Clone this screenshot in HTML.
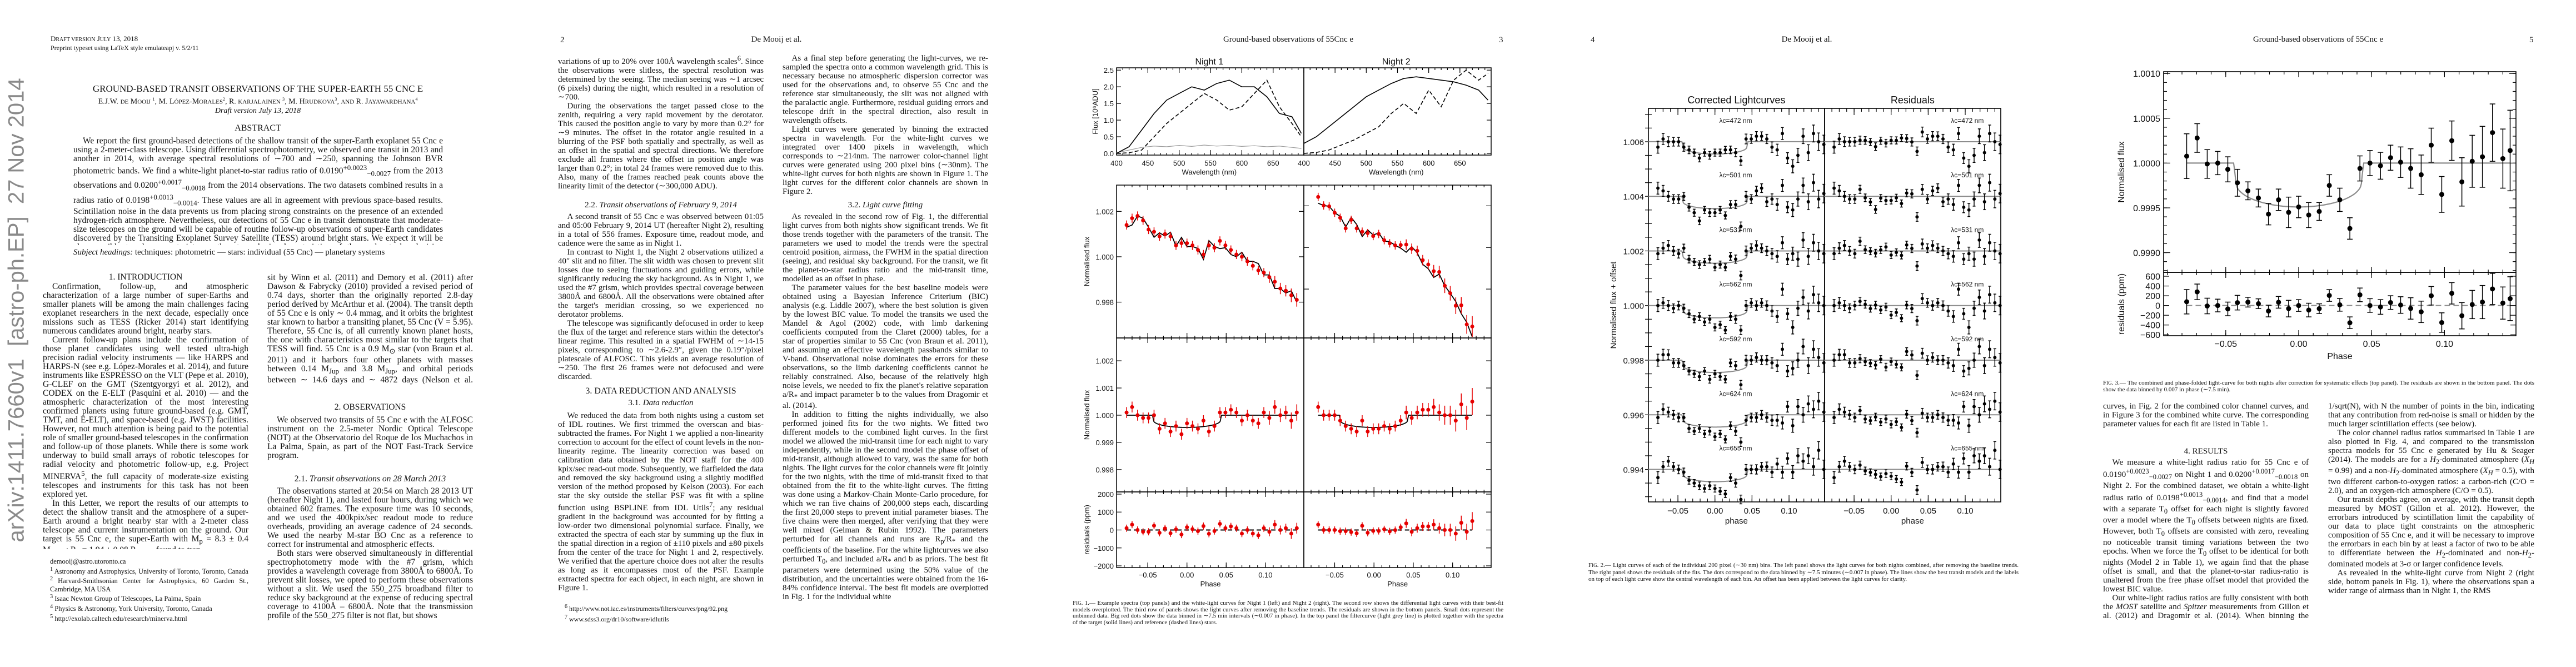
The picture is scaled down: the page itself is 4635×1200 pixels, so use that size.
<!DOCTYPE html>
<html><head><meta charset="utf-8">
<style>
html,body{margin:0;padding:0;background:#fff;}
body{width:4635px;height:1200px;position:relative;overflow:hidden;font-family:"Liberation Serif",serif;color:#111;}
.abs{position:absolute;}
.col{position:absolute;text-align:justify;font-size:15px;line-height:16px;overflow:hidden;hyphens:auto;}
.col p{margin:0;text-indent:1.1em;}
.p1{font-size:15.5px;line-height:16px;}
.hd{position:absolute;text-align:center;font-size:15px;}
.fn{position:absolute;font-size:12px;line-height:14px;text-align:justify;}
.cap{position:absolute;font-size:11px;line-height:11.5px;text-align:justify;}
svg text{font-family:"Liberation Sans",sans-serif;fill:#111;}
</style></head>
<body>
<!-- PAGE 1 -->
<div class="abs" style="left:91px;top:62px;font-size:13px;">D<span style="font-size:10px">RAFT VERSION</span> J<span style="font-size:10px">ULY</span> 13, 2018</div>
<div class="abs" style="left:91px;top:79px;font-size:12px;">Preprint typeset using LaTeX style emulateapj v. 5/2/11</div>
<div class="hd" style="left:130px;width:668px;top:150px;font-size:17px;">GROUND-BASED TRANSIT OBSERVATIONS OF THE SUPER-EARTH 55 CNC E</div>
<div class="hd" style="left:100px;width:728px;top:174px;font-size:14px;">E.J.W. <span style="font-size:11px">DE</span> M<span style="font-size:11px">OOIJ</span> <sup style="font-size:8px">1</sup>, M. L<span style="font-size:11px">ÓPEZ</span>-M<span style="font-size:11px">ORALES</span><sup style="font-size:8px">2</sup>, R. <span style="font-size:11px">KARJALAINEN</span> <sup style="font-size:8px">3</sup>, M. H<span style="font-size:11px">RUDKOVA</span><sup style="font-size:8px">3</sup>, <span style="font-size:11px">AND</span> R. J<span style="font-size:11px">AYAWARDHANA</span><sup style="font-size:8px">4</sup></div>
<div class="hd" style="left:130px;width:668px;top:192px;font-size:14px;font-style:italic;">Draft version July 13, 2018</div>
<div class="hd" style="left:130px;width:668px;top:222px;font-size:16px;">ABSTRACT</div>
<div class="col p1" style="left:132px;width:665px;top:246px;height:195px;">
<p>We report the first ground-based detections of the shallow transit of the super-Earth exoplanet 55 Cnc e using a 2-meter-class telescope. Using differential spectrophotometry, we observed one transit in 2013 and another in 2014, with average spectral resolutions of ∼700 and ∼250, spanning the Johnson BVR photometric bands. We find a white-light planet-to-star radius ratio of 0.0190<sup>+0.0023</sup><sub>−0.0027</sub> from the 2013 observations and 0.0200<sup>+0.0017</sup><sub>−0.0018</sub> from the 2014 observations. The two datasets combined results in a radius ratio of 0.0198<sup>+0.0013</sup><sub>−0.0014</sub>. These values are all in agreement with previous space-based results. Scintillation noise in the data prevents us from placing strong constraints on the presence of an extended hydrogen-rich atmosphere. Nevertheless, our detections of 55 Cnc e in transit demonstrate that moderate-size telescopes on the ground will be capable of routine follow-up observations of super-Earth candidates discovered by the Transiting Exoplanet Survey Satellite (TESS) around bright stars. We expect it will be also possible to place constraints on the atmospheric characteristics of those planets by devising observational strategies to minimize scintillation noise.</p></div>
<div class="abs" style="left:132px;top:446px;font-size:15px;"><i>Subject headings:</i> techniques: photometric — stars: individual (55 Cnc) — planetary systems</div>
<div class="hd" style="left:77px;width:370px;top:490px;font-size:15.5px;">1. INTRODUCTION</div>
<div class="col p1" style="left:77px;width:370px;top:508px;height:480px;">
<p>Confirmation, follow-up, and atmospheric characterization of a large number of super-Earths and smaller planets will be among the main challenges facing exoplanet researchers in the next decade, especially once missions such as TESS (Ricker 2014) start identifying numerous candidates around bright, nearby stars.</p>
<p>Current follow-up plans include the confirmation of those planet candidates using well tested ultra-high precision radial velocity instruments — like HARPS and HARPS-N (see e.g. López-Morales et al. 2014), and future instruments like ESPRESSO on the VLT (Pepe et al. 2010), G-CLEF on the GMT (Szentgyorgyi et al. 2012), and CODEX on the E-ELT (Pasquini et al. 2010) — and the atmospheric characterization of the most interesting confirmed planets using future ground-based (e.g. GMT, TMT, and E-ELT), and space-based (e.g. JWST) facilities. However, not much attention is being paid to the potential role of smaller ground-based telescopes in the confirmation and follow-up of those planets. While there is some work underway to build small arrays of robotic telescopes for radial velocity and photometric follow-up, e.g. Project MINERVA<sup>5</sup>, the full capacity of moderate-size existing telescopes and instruments for this task has not been explored yet.</p>
<p>In this Letter, we report the results of our attempts to detect the shallow transit and the atmosphere of a super-Earth around a bright nearby star with a 2-meter class telescope and current instrumentation on the ground. Our target is 55 Cnc e, the super-Earth with M<sub>p</sub> = 8.3 ± 0.4 M<sub>Earth</sub>; R<sub>p</sub> = 1.94 ± 0.08 R<sub>Earth</sub>, found to tran-</p></div>
<div class="fn" style="left:90px;width:357px;top:1003px;font-size:12.5px;line-height:14.5px;">demooij@astro.utoronto.ca<br><sup>1</sup> Astronomy and Astrophysics, University of Toronto, Toronto, Canada<br><sup>2</sup> Harvard-Smithsonian Center for Astrophysics, 60 Garden St., Cambridge, MA USA<br><sup>3</sup> Isaac Newton Group of Telescopes, La Palma, Spain<br><sup>4</sup> Physics &amp; Astronomy, York University, Toronto, Canada<br><sup>5</sup> http://exolab.caltech.edu/research/minerva.html</div>
<div class="col p1" style="left:481px;width:370px;top:492px;height:200px;">
<p style="text-indent:0">sit by Winn et al. (2011) and Demory et al. (2011) after Dawson &amp; Fabrycky (2010) provided a revised period of 0.74 days, shorter than the originally reported 2.8-day period derived by McArthur et al. (2004). The transit depth of 55 Cnc e is only ∼ 0.4 mmag, and it orbits the brightest star known to harbor a transiting planet, 55 Cnc (V = 5.95). Therefore, 55 Cnc is, of all currently known planet hosts, the one with characteristics most similar to the targets that TESS will find. 55 Cnc is a 0.9 M<sub>⊙</sub> star (von Braun et al. 2011) and it harbors four other planets with masses between 0.14 M<sub>Jup</sub> and 3.8 M<sub>Jup</sub>, and orbital periods between ∼ 14.6 days and ∼ 4872 days (Nelson et al. 2014).</p></div>
<div class="hd" style="left:481px;width:370px;top:724px;font-size:15.5px;">2. OBSERVATIONS</div>
<div class="col p1" style="left:481px;width:370px;top:748px;height:82px;">
<p>We observed two transits of 55 Cnc e with the ALFOSC instrument on the 2.5-meter Nordic Optical Telescope (NOT) at the Observatorio del Roque de los Muchachos in La Palma, Spain, as part of the NOT Fast-Track Service program.</p></div>
<div class="hd" style="left:481px;width:370px;top:853px;font-size:15.5px;">2.1. <i>Transit observations on 28 March 2013</i></div>
<div class="col p1" style="left:481px;width:370px;top:876px;height:240px;">
<p>The observations started at 20:54 on March 28 2013 UT (hereafter Night 1), and lasted four hours, during which we obtained 602 frames. The exposure time was 10 seconds, and we used the 400kpix/sec readout mode to reduce overheads, providing an average cadence of 24 seconds. We used the nearby M-star BO Cnc as a reference to correct for instrumental and atmospheric effects.</p>
<p>Both stars were observed simultaneously in differential spectrophotometry mode with the #7 grism, which provides a wavelength coverage from 3800Å to 6800Å. To prevent slit losses, we opted to perform these observations without a slit. We used the 550_275 broadband filter to reduce sky background at the expense of reducing spectral coverage to 4100Å – 6800Å. Note that the transmission profile of the 550_275 filter is not flat, but shows</p></div>
<div class="abs" style="left:30px;top:558px;width:0;height:0;"><div style="position:absolute;transform:translate(-50%,-50%) rotate(-90deg);white-space:nowrap;font-size:40px;color:#8a8a8a;font-family:'Liberation Sans',sans-serif;">arXiv:1411.7660v1 &nbsp;[astro-ph.EP] &nbsp;27 Nov 2014</div></div>

<!-- PAGE 2 -->
<div class="abs" style="left:1008px;top:64px;font-size:15px;">2</div>
<div class="hd" style="left:1300px;width:194px;top:63px;">De Mooij et al.</div>
<div class="col" style="left:1004px;width:370px;top:97px;height:262px;">
<p style="text-indent:0">variations of up to 20% over 100Å wavelength scales<sup>6</sup>. Since the observations were slitless, the spectral resolution was determined by the seeing. The median seeing was ∼1 arcsec (6 pixels) during the night, which resulted in a resolution of ∼700.</p>
<p>During the observations the target passed close to the zenith, requiring a very rapid movement by the derotator. This caused the position angle to vary by more than 0.2° for ∼9 minutes. The offset in the rotator angle resulted in a blurring of the PSF both spatially and spectrally, as well as an offset in the spatial and spectral directions. We therefore exclude all frames where the offset in position angle was larger than 0.2°; in total 24 frames were removed due to this. Also, many of the frames reached peak counts above the linearity limit of the detector (∼300,000 ADU).</p></div>
<div class="hd" style="left:1004px;width:370px;top:361px;"><span style="font-style:normal">2.2.</span> <i>Transit observations of February 9, 2014</i></div>
<div class="col" style="left:1004px;width:370px;top:382px;height:305px;">
<p>A second transit of 55 Cnc e was observed between 01:05 and 05:00 February 9, 2014 UT (hereafter Night 2), resulting in a total of 556 frames. Exposure time, readout mode, and cadence were the same as in Night 1.</p>
<p>In contrast to Night 1, the Night 2 observations utilized a 40″ slit and no filter. The slit width was chosen to prevent slit losses due to seeing fluctuations and guiding errors, while significantly reducing the sky background. As in Night 1, we used the #7 grism, which provides spectral coverage between 3800Å and 6800Å. All the observations were obtained after the target's meridian crossing, so we experienced no derotator problems.</p>
<p>The telescope was significantly defocused in order to keep the flux of the target and reference stars within the detector's linear regime. This resulted in a spatial FWHM of ∼14-15 pixels, corresponding to ∼2.6-2.9″, given the 0.19″/pixel platescale of ALFOSC. This yields an average resolution of ∼250. The first 26 frames were not defocused and were discarded.</p></div>
<div class="hd" style="left:1004px;width:370px;top:695px;font-size:16px;">3. DATA REDUCTION AND ANALYSIS</div>
<div class="hd" style="left:1004px;width:370px;top:717px;">3.1. <i>Data reduction</i></div>
<div class="col" style="left:1004px;width:370px;top:740px;height:326px;">
<p>We reduced the data from both nights using a custom set of IDL routines. We first trimmed the overscan and bias-subtracted the frames. For Night 1 we applied a non-linearity correction to account for the effect of count levels in the non-linearity regime. The linearity correction was based on calibration data obtained by the NOT staff for the 400 kpix/sec read-out mode. Subsequently, we flatfielded the data and removed the sky background using a slightly modified version of the method proposed by Kelson (2003). For each star the sky outside the stellar PSF was fit with a spline function using BSPLINE from IDL Utils<sup>7</sup>; any residual gradient in the background was accounted for by fitting a low-order two dimensional polynomial surface. Finally, we extracted the spectra of each star by summing up the flux in the spatial direction in a region of ±110 pixels and ±80 pixels from the center of the trace for Night 1 and 2, respectively. We verified that the aperture choice does not alter the results as long as it encompasses most of the PSF. Example extracted spectra for each object, in each night, are shown in Figure 1.</p></div>
<div class="fn" style="left:1016px;width:360px;top:1084px;font-size:12px;line-height:15px;"><sup>6</sup> http://www.not.iac.es/instruments/filters/curves/png/92.png<br><sup>7</sup> www.sdss3.org/dr10/software/idlutils</div>
<div class="col" style="left:1408px;width:370px;top:97px;height:256px;">
<p>As a final step before generating the light-curves, we re-sampled the spectra onto a common wavelength grid. This is necessary because no atmospheric dispersion corrector was used for the observations and, to observe 55 Cnc and the reference star simultaneously, the slit was not aligned with the paralactic angle. Furthermore, residual guiding errors and telescope drift in the spectral direction, also result in wavelength offsets.</p>
<p>Light curves were generated by binning the extracted spectra in wavelength. For the white-light curves we integrated over 1400 pixels in wavelength, which corresponds to ∼214nm. The narrower color-channel light curves were generated using 200 pixel bins (∼30nm). The white-light curves for both nights are shown in Figure 1. The light curves for the different color channels are shown in Figure 2.</p></div>
<div class="hd" style="left:1408px;width:370px;top:361px;">3.2. <i>Light curve fitting</i></div>
<div class="col" style="left:1408px;width:370px;top:382px;height:734px;">
<p>As revealed in the second row of Fig. 1, the differential light curves from both nights show significant trends. We fit those trends together with the parameters of the transit. The parameters we used to model the trends were the spectral centroid position, airmass, the FWHM in the spatial direction (seeing), and residual sky background. For the transit, we fit the planet-to-star radius ratio and the mid-transit time, modelled as an offset in phase.</p>
<p>The parameter values for the best baseline models were obtained using a Bayesian Inference Criterium (BIC) analysis (e.g. Liddle 2007), where the best solution is given by the lowest BIC value. To model the transits we used the Mandel &amp; Agol (2002) code, with limb darkening coefficients computed from the Claret (2000) tables, for a star of properties similar to 55 Cnc (von Braun et al. 2011), and assuming an effective wavelength passbands similar to V-band. Observational noise dominates the errors for these observations, so the limb darkening coefficients cannot be reliably constrained. Also, because of the relatively high noise levels, we needed to fix the planet's relative separation a/R<sub>*</sub> and impact parameter b to the values from Dragomir et al. (2014).</p>
<p>In addition to fitting the nights individually, we also performed joined fits for the two nights. We fitted two different models to the combined light curves. In the first model we allowed the mid-transit time for each night to vary independently, while in the second model the phase offset of mid-transit, although allowed to vary, was the same for both nights. The light curves for the color channels were fit jointly for the two nights, with the time of mid-transit fixed to that obtained from the fit to the white-light curves. The fitting was done using a Markov-Chain Monte-Carlo procedure, for which we ran five chains of 200,000 steps each, discarding the first 20,000 steps to prevent initial parameter biases. The five chains were then merged, after verifying that they were well mixed (Gelman &amp; Rubin 1992). The parameters perturbed for all channels and runs are R<sub>p</sub>/R<sub>*</sub> and the coefficients of the baseline. For the white lightcurves we also perturbed T<sub>0</sub>, and included a/R<sub>*</sub> and b as priors. The best fit parameters were determined using the 50% value of the distribution, and the uncertainties were obtained from the 16-84% confidence interval. The best fit models are overplotted in Fig. 1 for the individual white</p></div>

<!-- PAGE 3 -->
<div class="hd" style="left:2160px;width:316px;top:63px;">Ground-based observations of 55Cnc e</div>
<div class="abs" style="left:2697px;top:64px;font-size:15px;">3</div>
<div class="cap" style="left:1930px;width:775px;top:1080px;">F<span style="font-size:9px">IG</span>. 1.— Example spectra (top panels) and the white-light curves for Night 1 (left) and Night 2 (right). The second row shows the differential light curves with their best-fit models overplotted. The third row of panels shows the light curves after removing the baseline trends. The residuals are shown in the bottom panels. Small dots represent the unbinned data. Big red dots show the data binned in ∼7.5 min intervals (∼0.007 in phase). In the top panel the filtercurve (light grey line) is plotted together with the spectra of the target (solid lines) and reference (dashed lines) stars.</div>

<!-- PAGE 4 -->
<div class="abs" style="left:2862px;top:64px;font-size:15px;">4</div>
<div class="hd" style="left:3154px;width:194px;top:63px;">De Mooij et al.</div>
<div class="cap" style="left:2858px;width:774px;top:1011px;line-height:12.5px;">F<span style="font-size:9px">IG</span>. 2.— Light curves of each of the individual 200 pixel (∼30 nm) bins. The left panel shows the light curves for both nights combined, after removing the baseline trends. The right panel shows the residuals of the fits. The dots correspond to the data binned by ∼7.5 minutes (∼0.007 in phase). The lines show the best transit models and the labels on top of each light curve show the central wavelength of each bin. An offset has been applied between the light curves for clarity.</div>

<!-- PAGE 5 -->
<div class="hd" style="left:4013px;width:316px;top:63px;">Ground-based observations of 55Cnc e</div>
<div class="abs" style="left:4551px;top:64px;font-size:15px;">5</div>
<div class="cap" style="left:3784px;width:776px;top:683px;line-height:12px;">F<span style="font-size:9px">IG</span>. 3.— The combined and phase-folded light-curve for both nights after correction for systematic effects (top panel). The residuals are shown in the bottom panel. The dots show the data binned by 0.007 in phase (∼7.5 min).</div>
<div class="col" style="left:3784px;width:370px;top:723px;height:66px;">
<p style="text-indent:0">curves, in Fig. 2 for the combined color channel curves, and in Figure 3 for the combined white curve. The corresponding parameter values for each fit are listed in Table 1.</p></div>
<div class="hd" style="left:3784px;width:370px;top:804px;">4. RESULTS</div>
<div class="col" style="left:3784px;width:370px;top:824px;height:292px;">
<p>We measure a white-light radius ratio for 55 Cnc e of 0.0190<sup>+0.0023</sup><sub>−0.0027</sub> on Night 1 and 0.0200<sup>+0.0017</sup><sub>−0.0018</sub> on Night 2. For the combined dataset, we obtain a white-light radius ratio of 0.0198<sup>+0.0013</sup><sub>−0.0014</sub>, and find that a model with a separate T<sub>0</sub> offset for each night is slightly favored over a model where the T<sub>0</sub> offsets between nights are fixed. However, both T<sub>0</sub> offsets are consisted with zero, revealing no noticeable transit timing variations between the two epochs. When we force the T<sub>0</sub> offset to be identical for both nights (Model 2 in Table 1), we again find that the phase offset is small, and that the planet-to-star radius-ratio is unaltered from the free phase offset model that provided the lowest BIC value.</p>
<p>Our white-light radius ratios are fully consistent with both the <i>MOST</i> satellite and <i>Spitzer</i> measurements from Gillon et al. (2012) and Dragomir et al. (2014). When binning the residuals of the white light curves for each of the nights the RMS decreases steeper than</p></div>
<div class="col" style="left:4189px;width:371px;top:723px;height:393px;">
<p style="text-indent:0">1/sqrt(N), with N the number of points in the bin, indicating that any contribution from red-noise is small or hidden by the much larger scintillation effects (see below).</p>
<p>The color channel radius ratios summarised in Table 1 are also plotted in Fig. 4, and compared to the transmission spectra models for 55 Cnc e generated by Hu &amp; Seager (2014). The models are for a <i>H</i><sub>2</sub>-dominated atmosphere (<i>X<sub>H</sub></i> = 0.99) and a non-<i>H</i><sub>2</sub>-dominated atmosphere (<i>X<sub>H</sub></i> = 0.5), with two different carbon-to-oxygen ratios: a carbon-rich (C/O = 2.0), and an oxygen-rich atmosphere (C/O = 0.5).</p>
<p>Our transit depths agree, on average, with the transit depth measured by MOST (Gillon et al. 2012). However, the errorbars introduced by scintillation limit the capability of our data to place tight constraints on the atmospheric composition of 55 Cnc e, and it will be necessary to improve the errorbars in each bin by at least a factor of two to be able to differentiate between the <i>H</i><sub>2</sub>-dominated and non-<i>H</i><sub>2</sub>-dominated models at 3-σ or larger confidence levels.</p>
<p>As revealed in the white-light curve from Night 2 (right side, bottom panels in Fig. 1), where the observations span a wider range of airmass than in Night 1, the RMS</p></div>

<svg id="figs" width="4635" height="1200" style="position:absolute;left:0;top:0;" xmlns="http://www.w3.org/2000/svg"></svg>

<script>
// ---------- DATA ----------
// Figure 3: combined phase-folded white light curve
const fig3Phase = [-0.0768,-0.0696,-0.0627,-0.0555,-0.0486,-0.042,-0.0348,-0.0276,-0.0207,-0.0138,-0.0069,0.0,0.0069,0.0141,0.021,0.0282,0.0351,0.042,0.0489,0.0561,0.063,0.0699,0.0768,0.084,0.0909,0.0981,0.105,0.1119,0.119,0.126,0.1329,0.14,0.145];
const fig3Flux = [1.000077,1.00028,0.99999,1.0,0.99993,0.99978,0.99969,0.99961,0.99943,0.99959,0.99945,0.99951,0.99942,0.99946,0.99975,0.99959,0.99927,0.99994,1.0,0.99997,1.00006,1.00001,0.99994,0.99987,1.0002,0.99965,1.00025,0.99979,1.00002,1.00007,1.00034,1.00005,1.00014];
const fig3Err = [0.00025,0.00016,0.00016,0.00013,0.00014,0.00015,0.0001,0.0001,0.00012,0.00012,0.00017,0.00012,0.00014,0.0001,0.00012,0.00013,0.00012,0.00014,0.00014,0.00015,0.00014,0.00017,0.00022,0.00022,0.00019,0.0002,0.00022,0.00027,0.00029,0.00034,0.00032,0.00033,0.00045];
const fig3Model = [0.00049, 0.0445]; // depth, half duration (phase)
const fig3YTicks = [1.0010,1.0005,1.0000,0.9995,0.9990];
const fig3YLabels = ['1.0010','1.0005','1.0000','0.9995','0.9990'];
const fig3RTicks = [600,400,200,0,-200,-400,-600];
const fig3RLabels = ['600','400','200','0','−200','−400','−600'];
const phaseTicks = [-0.05,0.0,0.05,0.10];
const phaseLabels = ['−0.05','0.00','0.05','0.10'];

// Figure 2: colour channels (values in 1e-4 relative to offset)
const fig2Phase = [-0.077,-0.070,-0.063,-0.056,-0.049,-0.042,-0.035,-0.028,-0.021,-0.014,-0.007,0.0,0.007,0.014,0.021,0.028,0.035,0.042,0.049,0.056,0.063,0.070,0.077,0.084,0.091,0.098,0.105,0.112,0.119,0.126,0.133,0.140,0.147];
const fig2Wave = [472,501,531,562,592,624,655];
const fig2Offset = [1.006,1.004,1.002,1.000,0.998,0.996,0.994];
const ch472 = [-2,1,0,0,0,-2,-3,-4,-6,-4,-5,-4,-4,-3,-3,-4,-7,1,1,2,2,1,-2,-3,3,-6,-9,-5,2,-4,3,0,-1];
const ch501 = [3,2,0,-1,-1,0,-4,-6,-9,-5,-6,-6,-5,-7,-3,-3,-11,0,-1,2,3,-2,-1,-3,4,-4,-5,-1,4,-2,5,-1,1];
const ch531 = [-1,1,2,0,-1,1,-3,-4,-5,-4,-3,-6,-5,-6,-2,-3,-9,0,1,2,1,0,-1,-2,3,-3,-1,-3,4,-2,3,0,-1];
const ch562 = [0,1,0,-1,0,-1,-3,-5,-4,-6,-5,-8,-7,-9,-4,-5,-9,0,1,0,1,0,-2,-4,6,-3,-8,-1,3,-2,4,1,0];
const ch592 = [0,2,2,-1,-1,-2,-4,-5,-6,-4,-7,-5,-6,-7,-1,-2,-9,0,0,1,0,0,-1,-2,4,-4,-3,0,5,-2,4,1,-1];
const ch624 = [-1,2,1,0,-1,-1,-5,-6,-5,-7,-6,-8,-7,-9,-4,-6,-10,-2,-1,-1,0,-1,-2,-2,-3,3,-4,3,0,4,2,5,1];
const ch655 = [-3,1,3,1,0,-1,-4,-5,-6,-7,-6,-7,-8,-9,-3,-5,-11,0,0,0,1,1,-1,2,-1,4,-1,5,3,5,1,7,0];
const fig2Err = [2.2,2,1.8,1.6,1.6,1.5,1.4,1.3,1.4,1.3,1.4,1.3,1.3,1.3,1.4,1.5,1.6,1.8,1.6,1.7,1.6,1.7,1.9,2.1,2.2,2.0,2.4,2.6,2.7,2.9,3.1,3.2,3.4];
const fig2Model = [0.00045, 0.0445];
const fig2YTicks = [1.006,1.004,1.002,1.000,0.998,0.996,0.994];
const fig2YLabels = ['1.006','1.004','1.002','1.000','0.998','0.996','0.994'];

// Figure 1: spectra
const specWave = [400,420,440,460,480,500,520,540,560,580,600,620,640,660,680,695];
const n1Target = [0.0,0.2,0.7,1.2,1.6,1.8,2.0,1.9,2.1,2.2,2.0,2.0,1.7,1.2,1.1,0.6];
const n1Ref = [0.0,0.02,0.1,0.5,0.9,1.2,1.5,1.8,1.6,1.3,1.4,1.8,2.2,1.4,0.9,0.5];
const n1Filter = [0.02,0.1,0.18,0.22,0.2,0.24,0.21,0.25,0.22,0.24,0.21,0.23,0.2,0.22,0.18,0.15];
const n2Target = [0.3,0.5,0.8,1.1,1.4,1.7,1.9,2.1,2.25,2.3,2.25,2.2,2.15,2.05,1.9,1.6];
const n2Ref = [0.0,0.03,0.1,0.25,0.4,0.6,0.8,1.2,1.5,1.2,1.9,1.4,2.2,2.5,2.2,2.4];
const specYTicks = [0.0,0.5,1.0,1.5,2.0,2.5];
const specYLabels = ['0.0','0.5','1.0','1.5','2.0','2.5'];
const specXTicks = [400,450,500,550,600,650];
const specXLabels = ['400','450','500','550','600','650'];
// Figure 1: binned light curves (flux-1 in units of 1e-3)
const n1Phase = [-0.077,-0.070,-0.063,-0.056,-0.049,-0.042,-0.035,-0.028,-0.021,-0.014,-0.007,0.0,0.007,0.014,0.021,0.028,0.035,0.042,0.049,0.056,0.063,0.070,0.077,0.084,0.091,0.098,0.105,0.112,0.119,0.126,0.133,0.140];
const n1Raw = [1.4,1.7,1.8,1.6,1.2,1.1,0.9,1.0,0.9,0.5,0.6,0.6,0.5,0.3,0.1,0.5,0.4,0.7,0.5,0.3,0.1,0.0,-0.2,-0.4,-0.6,-0.7,-0.9,-1.1,-1.4,-1.5,-1.7,-1.9];
const n1Det = [0.1,0.3,0.0,-0.1,-0.1,0.0,-0.5,-0.3,-0.6,-0.4,-0.7,-0.3,-0.4,-0.5,-0.2,-0.6,-0.4,0.1,0.1,0.2,0.1,-0.2,0.0,-0.2,-0.3,0.1,-0.1,0.3,0.0,0.1,-0.2,0.1];
const n1Err = [0.2,0.2,0.2,0.2,0.2,0.2,0.2,0.2,0.2,0.2,0.2,0.2,0.2,0.2,0.2,0.2,0.2,0.2,0.2,0.2,0.2,0.2,0.2,0.2,0.2,0.2,0.25,0.25,0.25,0.25,0.3,0.3];
const n2Phase = [-0.071,-0.064,-0.057,-0.050,-0.043,-0.036,-0.029,-0.022,-0.015,-0.008,-0.001,0.006,0.013,0.020,0.027,0.034,0.041,0.048,0.055,0.062,0.069,0.076,0.083,0.090,0.097,0.104,0.111,0.118,0.125];
const n2Raw = [2.43,2.02,1.98,1.67,1.43,0.92,1.33,0.92,0.76,0.69,0.55,0.65,0.35,0.20,0.10,0.12,0.14,-0.06,-0.16,-0.61,-0.82,-1.14,-1.18,-1.84,-2.2,-2.8,-2.78,-3.7,-3.8];
const n2Det = [0.3,0.0,0.0,0.0,-0.2,-0.4,-0.5,-0.6,-0.2,-0.6,-0.5,-0.5,-0.4,-0.5,-0.4,-0.2,0.1,-0.1,0.1,0.2,0.2,0.3,0.1,0.0,0.0,-0.2,0.4,-0.1,0.5];
const n2Err = [0.2,0.2,0.2,0.2,0.2,0.2,0.2,0.2,0.2,0.2,0.2,0.2,0.2,0.2,0.2,0.2,0.25,0.25,0.25,0.25,0.25,0.3,0.3,0.35,0.35,0.4,0.4,0.45,0.5];
const fig1Model = [0.00045, 0.044];
const lcYTicks = [1.002,1.000,0.998];
const lcYLabels = ['1.002','1.000','0.998'];
const detYTicks = [1.002,1.001,1.000,0.999,0.998];
const detYLabels = ['1.002','1.001','1.000','0.999','0.998'];
const resYTicks = [2000,1000,0,-1000,-2000];
const resYLabels = ['2000','1000','0','−1000','−2000'];

// ---------- HELPERS ----------
const NS = 'http://www.w3.org/2000/svg';
const svg = document.getElementById('figs');
function mk(tag, attrs, name, parent) {
  const el = document.createElementNS(NS, tag);
  for (const k in attrs) el.setAttribute(k, attrs[k]);
  
  
  (parent || svg).appendChild(el);
  return el;
}
function lin(d0, d1, r0, r1) { return v => r0 + (v - d0) / (d1 - d0) * (r1 - r0); }
function steps(a, b, s) { const o = []; for (let v = a; v <= b + s * 1e-6; v += s) o.push(+v.toFixed(8)); return o; }
function transitLoss(p, depth, half) {
  const a = Math.abs(p);
  if (a >= half) return 0;
  const ing = 0.0015;
  const r = Math.min(a / (half - ing), 1);
  const inner = depth * (1 - 0.55 * (1 - Math.sqrt(Math.max(0, 1 - r * r))));
  if (a > half - ing) return inner * (half - a) / ing;
  return inner;
}
function modelPath(xs, ys, p0, p1, depth, half, base) {
  let d = '';
  for (let i = 0; i <= 400; i++) {
    const p = p0 + (p1 - p0) * i / 400;
    d += (i ? 'L' : 'M') + xs(p).toFixed(1) + ',' + ys(base - transitLoss(p, depth, half)).toFixed(1);
  }
  return d;
}
function frame(x0, y0, x1, y1, name, w) {
  mk('rect', {x: x0, y: y0, width: x1 - x0, height: y1 - y0, fill: 'none', stroke: '#000', 'stroke-width': w || 1.5}, name);
}
function xTicks(xs, vals, y0, y1, len, name) {
  const g = mk('g', {stroke: '#000', 'stroke-width': 1.2}, name);
  vals.forEach(v => {
    const x = xs(v);
    mk('line', {x1: x, y1: y1, x2: x, y2: y1 - len}, 'tick', g);
    mk('line', {x1: x, y1: y0, x2: x, y2: y0 + len}, 'tick', g);
  });
}
function yTicks(ys, vals, x0, x1, len, name) {
  const g = mk('g', {stroke: '#000', 'stroke-width': 1.2}, name);
  vals.forEach(v => {
    const y = ys(v);
    mk('line', {x1: x0, y1: y, x2: x0 + len, y2: y}, 'tick', g);
    mk('line', {x1: x1, y1: y, x2: x1 - len, y2: y}, 'tick', g);
  });
}
function label(x, y, txt, size, anchor, name, rot) {
  const t = mk('text', {x: x, y: y, 'font-size': size, 'text-anchor': anchor || 'middle'}, name);
  if (rot) t.setAttribute('transform', 'rotate(-90 ' + x + ' ' + y + ')');
  t.textContent = txt;
  return t;
}
function errPoint(x, y, yLo, yHi, r, color, cap, name) {
  const g = mk('g', {stroke: color, fill: color, 'stroke-width': 1.5}, name);
  mk('line', {x1: x, y1: yLo, x2: x, y2: yHi}, 'error-bar', g);
  if (cap) {
    mk('line', {x1: x - cap, y1: yLo, x2: x + cap, y2: yLo}, 'error-cap', g);
    mk('line', {x1: x - cap, y1: yHi, x2: x + cap, y2: yHi}, 'error-cap', g);
  }
  mk('circle', {cx: x, cy: y, r: r, stroke: 'none'}, 'data-point', g);
}
function poly(xs, ys, xv, yv, attrs, name) {
  const pts = xv.map((v, i) => xs(v).toFixed(1) + ',' + ys(yv[i]).toFixed(1)).join(' ');
  const a = Object.assign({points: pts, fill: 'none'}, attrs);
  return mk('polyline', a, name);
}

// ---------- FIGURE 3 ----------
(function () {
  const X0 = 3893, X1 = 4527, T = 129, M = 490, B = 604;
  const xs = lin(-0.0926, 0.149, X0, X1);
  const ys = lin(0.99878, 1.00102, M, T);
  const rs = lin(-620, 680, B, M);
  const fs = 16;
  frame(X0, T, X1, M, 'fig3-top-frame', 1.6);
  frame(X0, M, X1, B, 'fig3-residual-frame', 1.6);
  xTicks(xs, phaseTicks, T, M, 10, 'fig3-x-major-ticks');
  xTicks(xs, steps(-0.09, 0.14, 0.01), T, M, 5, 'fig3-x-minor-ticks');
  xTicks(xs, phaseTicks, M, B, 10, 'fig3-res-x-major-ticks');
  xTicks(xs, steps(-0.09, 0.14, 0.01), M, B, 5, 'fig3-res-x-minor-ticks');
  yTicks(ys, fig3YTicks, X0, X1, 12, 'fig3-y-major-ticks');
  yTicks(ys, steps(0.9988, 1.0010, 0.0001), X0, X1, 6, 'fig3-y-minor-ticks');
  yTicks(rs, fig3RTicks, X0, X1, 10, 'fig3-res-y-ticks');
  fig3YTicks.forEach((v, i) => label(X0 - 6, ys(v) + 6, fig3YLabels[i], fs, 'end', 'fig3-y-tick-label'));
  fig3RTicks.forEach((v, i) => label(X0 - 6, rs(v) + 6, fig3RLabels[i], fs, 'end', 'fig3-res-tick-label'));
  phaseTicks.forEach((v, i) => label(xs(v), B + 20, phaseLabels[i], fs, 'middle', 'fig3-x-tick-label'));
  label((X0 + X1) / 2, B + 42, 'Phase', fs, 'middle', 'fig3-x-axis-title');
  label(3822, (T + M) / 2, 'Normalised flux', fs, 'middle', 'fig3-y-axis-title', true);
  label(3822, (M + B) / 2, 'residuals (ppm)', fs, 'middle', 'fig3-res-axis-title', true);
  mk('path', {d: modelPath(xs, ys, -0.0768, 0.145, fig3Model[0], fig3Model[1], 1), fill: 'none', stroke: '#8c8c8c', 'stroke-width': 2.2}, 'fig3-transit-model');
  mk('line', {x1: xs(-0.0768), y1: rs(0), x2: xs(0.145), y2: rs(0), stroke: '#8c8c8c', 'stroke-width': 2, 'stroke-dasharray': '10,6'}, 'fig3-zero-line');
  fig3Phase.forEach((p, i) => {
    const f = fig3Flux[i], e = fig3Err[i];
    errPoint(xs(p), ys(f), ys(f - e), ys(f + e), 4.5, '#000', 5, 'fig3-point');
    const res = (f - (1 - transitLoss(p, fig3Model[0], fig3Model[1]))) * 1e6;
    errPoint(xs(p), rs(res), rs(res - e * 1e6), rs(res + e * 1e6), 4.5, '#000', 5, 'fig3-residual-point');
  });
})();

// ---------- FIGURE 2 ----------
(function () {
  const L0 = 2966, L1 = 3283, R1 = 3600, T = 195, B = 903;
  const xl = lin(-0.0898, 0.148, L0, L1);
  const xr = lin(-0.0898, 0.148, L1, R1);
  const ys = lin(0.99281, 1.00722, B, T);
  const chans = [ch472, ch501, ch531, ch562, ch592, ch624, ch655];
  frame(L0, T, L1, B, 'fig2-left-frame', 1.6);
  frame(L1, T, R1, B, 'fig2-right-frame', 1.6);
  [xl, xr].forEach((xs, k) => {
    xTicks(xs, phaseTicks, T, B, 12, k ? 'fig2-right-x-ticks' : 'fig2-left-x-ticks');
    xTicks(xs, steps(-0.08, 0.14, 0.01), T, B, 6, k ? 'fig2-right-x-minor' : 'fig2-left-x-minor');
    phaseTicks.forEach((v, i) => label(xs(v), B + 21, phaseLabels[i], 15, 'middle', 'fig2-x-tick-label'));
    label(xs(0.029), B + 39, 'phase', 15, 'middle', 'fig2-x-axis-title');
  });
  yTicks(ys, fig2YTicks, L0, R1, 12, 'fig2-y-ticks');
  yTicks(ys, steps(0.9930, 1.0070, 0.0005), L0, L0, 6, 'fig2-y-minor-ticks');
  fig2YTicks.forEach((v, i) => label(L0 - 8, ys(v) + 6, fig2YLabels[i], 15, 'end', 'fig2-y-tick-label'));
  label(2908, (T + B) / 2, 'Normalised flux + offset', 15, 'middle', 'fig2-y-axis-title', true);
  label(xl(0.029), T - 9, 'Corrected Lightcurves', 18, 'middle', 'fig2-left-title');
  label(xr(0.029), T - 9, 'Residuals', 18, 'middle', 'fig2-right-title');
  chans.forEach((vals, c) => {
    const off = fig2Offset[c];
    mk('path', {d: modelPath(xl, ys, -0.0898, 0.148, fig2Model[0], fig2Model[1], off), fill: 'none', stroke: '#8c8c8c', 'stroke-width': 2}, 'fig2-model-line');
    mk('line', {x1: L1, y1: ys(off), x2: R1, y2: ys(off), stroke: '#8c8c8c', 'stroke-width': 2}, 'fig2-residual-zero');
    label(xl(0.028), ys(off) - 34, 'λc=' + fig2Wave[c] + ' nm', 12, 'middle', 'fig2-channel-label');
    label(xr(0.125), ys(off) - 34, 'λc=' + fig2Wave[c] + ' nm', 12, 'end', 'fig2-res-channel-label');
    vals.forEach((v, i) => {
      const p = fig2Phase[i], f = off + v * 1e-4, e = fig2Err[i] * 1e-4;
      errPoint(xl(p), ys(f), ys(f - e), ys(f + e), 3, '#000', 2.5, 'fig2-point');
      const r = off + (f - off + transitLoss(p, fig2Model[0], fig2Model[1]));
      errPoint(xr(p), ys(r), ys(r - e), ys(r + e), 3, '#000', 2.5, 'fig2-residual-point');
    });
  });
})();

// ---------- FIGURE 1 ----------
(function () {
  const A0 = 2009, A1 = 2346, A2 = 2683;
  const sT = 122, sB = 279, r2T = 333, r2B = 608, r3B = 885, r4B = 1021;
  const red = '#e60000';
  // spectra
  const sy = lin(-0.05, 2.57, sB, sT);
  const sx1 = lin(400, 699, A0, A1), sx2 = lin(400, 700, A1, A2);
  frame(A0, sT, A1, sB, 'fig1-night1-spectrum-frame');
  frame(A1, sT, A2, sB, 'fig1-night2-spectrum-frame');
  [sx1, sx2].forEach((sx, k) => {
    xTicks(sx, specXTicks, sT, sB, 9, 'fig1-spec-x-ticks');
    xTicks(sx, steps(410, 690, 10), sT, sB, 4, 'fig1-spec-x-minor');
    specXTicks.forEach((v, i) => label(sx(v), sB + 19, specXLabels[i], 13, 'middle', 'fig1-spec-x-label'));
    label(sx(548), sB + 35, 'Wavelength (nm)', 13, 'middle', 'fig1-spec-x-title');
    label(sx(548), sT - 6, k ? 'Night 2' : 'Night 1', 16, 'middle', k ? 'fig1-night2-title' : 'fig1-night1-title');
  });
  yTicks(sy, specYTicks, A0, A2, 8, 'fig1-spec-y-ticks');
  yTicks(sy, specYTicks, A1 - 8, A1 + 8, 0, 'fig1-spec-mid-ticks');
  specYTicks.forEach((v, i) => label(A0 - 5, sy(v) + 5, specYLabels[i], 13, 'end', 'fig1-spec-y-label'));
  label(1975, (sT + sB) / 2, 'Flux [10⁶ADU]', 13, 'middle', 'fig1-spec-y-title', true);
  poly(sx1, sy, specWave, n1Filter, {stroke: '#999', 'stroke-width': 1.2}, 'fig1-night1-filter-curve');
  poly(sx1, sy, specWave, n1Target, {stroke: '#000', 'stroke-width': 1.6}, 'fig1-night1-target-spectrum');
  poly(sx1, sy, specWave, n1Ref, {stroke: '#000', 'stroke-width': 1.6, 'stroke-dasharray': '7,4'}, 'fig1-night1-reference-spectrum');
  poly(sx2, sy, specWave, n2Target, {stroke: '#000', 'stroke-width': 1.6}, 'fig1-night2-target-spectrum');
  poly(sx2, sy, specWave, n2Ref, {stroke: '#000', 'stroke-width': 1.6, 'stroke-dasharray': '7,4'}, 'fig1-night2-reference-spectrum');

  const x1 = lin(-0.0898, 0.149, A0, A1), x2 = lin(-0.0892, 0.149, A1, A2);
  const y2a = lin(0.99642, 1.00316, r2B, r2T), y2b = lin(0.99565, 1.00300, r2B, r2T);
  const y3 = lin(0.99718, 1.00284, r3B, r2B);
  const y4 = lin(-2093, 2124, r4B, r3B);
  [[r2T, r2B], [r2B, r3B], [r3B, r4B]].forEach((r, j) => {
    frame(A0, r[0], A1, r[1], 'fig1-night1-panel');
    frame(A1, r[0], A2, r[1], 'fig1-night2-panel');
    xTicks(x1, phaseTicks, r[0], r[1], 9, 'fig1-x-ticks');
    xTicks(x2, phaseTicks, r[0], r[1], 9, 'fig1-x-ticks');
    xTicks(x1, steps(-0.08, 0.14, 0.01), r[0], r[1], 4, 'fig1-x-minor');
    xTicks(x2, steps(-0.08, 0.14, 0.01), r[0], r[1], 4, 'fig1-x-minor');
  });
  yTicks(y2a, lcYTicks, A0, A1, 9, 'fig1-raw-y-ticks');
  yTicks(y2b, [1.002, 1.000, 0.998], A1, A2, 9, 'fig1-raw2-y-ticks');
  yTicks(y3, detYTicks, A0, A2, 9, 'fig1-det-y-ticks');
  yTicks(y3, detYTicks, A1 - 9, A1 + 9, 0, 'fig1-det-mid-ticks');
  yTicks(y4, resYTicks, A0, A2, 9, 'fig1-res-y-ticks');
  lcYTicks.forEach((v, i) => label(A0 - 5, y2a(v) + 5, lcYLabels[i], 13, 'end', 'fig1-raw-y-label'));
  detYTicks.forEach((v, i) => label(A0 - 5, y3(v) + 5, detYLabels[i], 13, 'end', 'fig1-det-y-label'));
  resYTicks.forEach((v, i) => label(A0 - 5, y4(v) + 5, resYLabels[i], 13, 'end', 'fig1-res-y-label'));
  label(1960, (r2T + r2B) / 2, 'Normalised flux', 13, 'middle', 'fig1-raw-y-title', true);
  label(1960, (r2B + r3B) / 2, 'Normalised flux', 13, 'middle', 'fig1-det-y-title', true);
  label(1960, (r3B + r4B) / 2, 'residuals (ppm)', 13, 'middle', 'fig1-res-y-title', true);
  [x1, x2].forEach(xs => {
    phaseTicks.forEach((v, i) => label(xs(v), r4B + 18, phaseLabels[i], 13, 'middle', 'fig1-x-label'));
    label(xs(0.03), r4B + 34, 'Phase', 13, 'middle', 'fig1-x-title');
  });
  const nights = [[x1, y2a, n1Phase, n1Raw, n1Det, n1Err], [x2, y2b, n2Phase, n2Raw, n2Det, n2Err]];
  nights.forEach((n, k) => {
    const [xs, yr, ph, raw, det, err] = n;
    const fitRaw = ph.map((p, i) => 1 + (raw[i] - det[i]) * 1e-3 - transitLoss(p, fig1Model[0], fig1Model[1]));
    poly(xs, yr, ph, fitRaw, {stroke: '#000', 'stroke-width': 1.8}, 'fig1-raw-model-line');
    mk('path', {d: modelPath(xs, y3, ph[0], ph[ph.length - 1], fig1Model[0], fig1Model[1], 1), fill: 'none', stroke: '#000', 'stroke-width': 1.8}, 'fig1-det-model-line');
    mk('line', {x1: xs(ph[0]), y1: y4(0), x2: xs(ph[ph.length - 1]), y2: y4(0), stroke: '#000', 'stroke-width': 2, 'stroke-dasharray': '8,5'}, 'fig1-res-zero-line');
    ph.forEach((p, i) => {
      const e = err[i] * 1e-3;
      const fr = 1 + raw[i] * 1e-3, fd = 1 + det[i] * 1e-3;
      errPoint(xs(p), yr(fr), yr(fr - e), yr(fr + e), 3.5, red, 0, 'fig1-raw-binned-point');
      errPoint(xs(p), y3(fd), y3(fd - e), y3(fd + e), 3.5, red, 0, 'fig1-det-binned-point');
      const res = det[i] * 1000 + transitLoss(p, fig1Model[0], fig1Model[1]) * 1e6;
      errPoint(xs(p), y4(res), y4(res - e * 1e6), y4(res + e * 1e6), 3.5, red, 0, 'fig1-res-binned-point');
    });
  });
})();
</script>
</body></html>
